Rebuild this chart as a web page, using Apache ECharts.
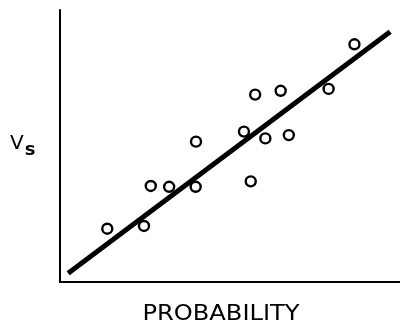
<!DOCTYPE html>
<html>
<head>
<meta charset="utf-8">
<script src="https://cdn.jsdelivr.net/npm/echarts@6/dist/echarts.min.js"></script>
<style>
html,body{margin:0;padding:0;background:#fff;}
#c{width:400px;height:327px;}
</style>
</head>
<body>
<div id="c"></div>
<script>
// Data (arbitrary units 0-100 on both axes)
var probability = [13.9, 24.7, 26.7, 32.1, 39.9, 40.0, 54.1, 56.1, 57.4, 60.4, 64.9, 67.3, 79.0, 86.6];
var vs          = [19.6, 20.6, 35.3, 35.0, 35.0, 51.6, 55.3, 37.0, 68.9, 52.8, 70.3, 54.0, 71.0, 87.4];
var fitX = [2.4, 97.1];
var fitY = [3.2, 92.0];
var xTitle = 'PROBABILITY';
var yTitleMain = 'V';
var yTitleSub = 's';

var pts = probability.map(function (x, i) { return [x, vs[i]]; });
var fit = fitX.map(function (x, i) { return [x, fitY[i]]; });

var chart = echarts.init(document.getElementById('c'));
chart.setOption({
  backgroundColor: '#fff',
  animation: false,
  grid: { left: 60, right: 0, top: 10, bottom: 45 },
  xAxis: {
    type: 'value', min: 0, max: 100,
    axisLine: { show: true, lineStyle: { color: '#000', width: 2 } },
    axisTick: { show: false }, axisLabel: { show: false }, splitLine: { show: false }
  },
  yAxis: {
    type: 'value', min: 0, max: 100,
    axisLine: { show: true, lineStyle: { color: '#000', width: 2 } },
    axisTick: { show: false }, axisLabel: { show: false }, splitLine: { show: false }
  },
  graphic: [{
    type: 'text', x: 221, y: 315, scaleX: 1.15,
    style: {
      text: xTitle, fill: '#000', fontSize: 21, fontFamily: 'DejaVu Sans',
      align: 'center', verticalAlign: 'middle'
    }
  }, {
    type: 'text', left: 10, top: 129,
    style: {
      text: '{v|' + yTitleMain + '}{s|' + yTitleSub + '}',
      rich: {
        v: { fontSize: 20, fontFamily: 'DejaVu Sans', fill: '#000', lineHeight: 22 },
        s: { fontSize: 18, fontFamily: 'DejaVu Sans', fill: '#000', fontWeight: 'bold', padding: [12, 0, 0, 1], lineHeight: 22 }
      }
    }
  }],
  series: [{
    type: 'line', data: fit, symbol: 'none', z: 1,
    lineStyle: { color: '#000', width: 5 }
  }, {
    type: 'scatter', data: pts, symbol: 'circle', symbolSize: 10, z: 2,
    itemStyle: { color: '#fff', borderColor: '#000', borderWidth: 2.4, opacity: 1 }
  }]
});
</script>
</body>
</html>
